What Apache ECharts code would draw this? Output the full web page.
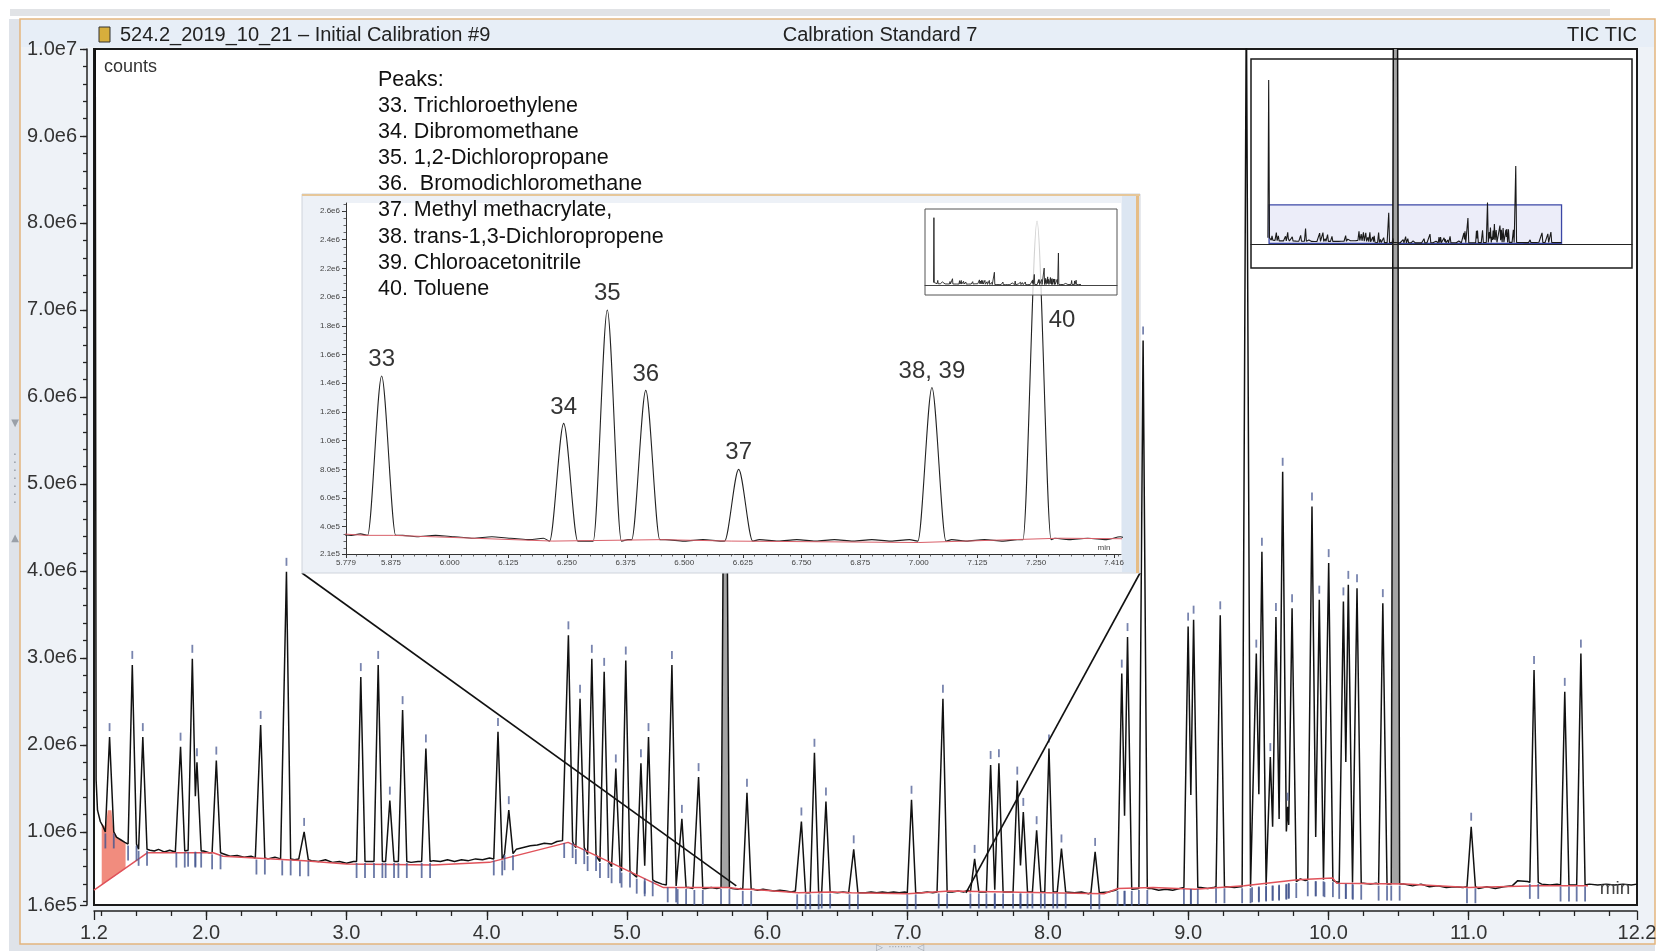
<!DOCTYPE html>
<html>
<head>
<meta charset="utf-8">
<title>524.2 Initial Calibration - Calbration Standard 7</title>
<script src="https://cdn.jsdelivr.net/npm/echarts@6/dist/echarts.min.js"></script>
<style>
html, body { margin: 0; padding: 0; background: #fff; }
#chart { width: 1663px; height: 951px; }
</style>
</head>
<body>
<div id="chart"></div>
<script>
// peak apexes: retention time (min), apex counts, level at the peak foot
var peakRT = [1.185, 1.311, 1.473, 1.548, 1.817, 1.901, 1.934, 2.072, 2.388, 2.572, 2.698,
  3.102, 3.226, 3.309, 3.400, 3.566, 4.080, 4.157, 4.582, 4.665, 4.749, 4.837, 4.920, 4.991,
  5.099, 5.153, 5.320, 5.391, 5.510, 5.700, 5.855, 6.243, 6.336, 6.418, 6.616, 7.028, 7.252,
  7.478, 7.592, 7.651, 7.782, 7.825, 7.920, 8.008, 8.097, 8.337, 8.527, 8.568, 8.679,
  9.000, 9.039, 9.229, 9.415, 9.486, 9.526, 9.586, 9.626, 9.674, 9.710, 9.741,
  9.883, 9.935, 10.002, 10.107, 10.142, 10.204, 10.388, 10.478, 11.018, 11.466, 11.685, 11.800];
var peakH = [4.2e7, 2.09e6, 2.92e6, 2.09e6, 1.98e6, 2.99e6, 1.80e6, 1.82e6, 2.23e6, 3.99e6, 1.00e6,
  2.78e6, 2.92e6, 1.36e6, 2.40e6, 1.96e6, 2.15e6, 1.25e6, 3.26e6, 2.53e6, 2.99e6, 2.84e6, 1.73e6, 2.97e6,
  1.79e6, 2.09e6, 2.92e6, 1.15e6, 1.63e6, 8.0e6, 1.45e6, 1.12e6, 1.91e6, 1.35e6, 0.80e6, 1.37e6, 2.53e6,
  0.69e6, 1.77e6, 1.79e6, 1.59e6, 1.23e6, 1.02e6, 1.96e6, 0.81e6, 0.77e6, 2.82e6, 3.24e6, 6.65e6,
  3.36e6, 3.44e6, 3.49e6, 1.06e7, 3.05e6, 4.22e6, 1.86e6, 3.47e6, 5.14e6, 1.29e6, 3.57e6,
  4.74e6, 3.67e6, 4.09e6, 3.65e6, 3.84e6, 3.80e6, 3.63e6, 2.0e7, 1.06e6, 2.86e6, 2.61e6, 3.05e6];
var peakBase = [1.6e6, 1.0e6, 0.86e6, 0.80e6, 0.78e6, 0.79e6, 0.78e6, 0.76e6, 0.70e6, 0.69e6, 0.68e6,
  0.66e6, 0.66e6, 0.66e6, 0.66e6, 0.66e6, 0.69e6, 0.75e6, 0.89e6, 0.82e6, 0.74e6, 0.66e6, 0.60e6, 0.55e6,
  0.48e6, 0.45e6, 0.38e6, 0.36e6, 0.35e6, 0.36e6, 0.34e6, 0.30e6, 0.30e6, 0.31e6, 0.30e6, 0.30e6, 0.31e6,
  0.31e6, 0.31e6, 0.31e6, 0.31e6, 0.31e6, 0.31e6, 0.31e6, 0.31e6, 0.30e6, 0.34e6, 0.34e6, 0.35e6,
  0.36e6, 0.36e6, 0.37e6, 0.37e6, 0.38e6, 0.39e6, 0.40e6, 0.40e6, 0.41e6, 0.42e6, 0.43e6,
  0.45e6, 0.45e6, 0.44e6, 0.42e6, 0.42e6, 0.41e6, 0.40e6, 0.40e6, 0.37e6, 0.42e6, 0.39e6, 0.39e6];
// the two wide peaks that show a grey body
var greyPeaks = [5.700, 10.478];

// trace level between the peaks
var baseline = [
  [1.225, 1.25e6], [1.245, 1.12e6], [1.265, 1.06e6],
  [1.36, 0.94e6], [1.39, 0.91e6], [1.42, 0.88e6],
  [1.60, 0.79e6], [1.63, 0.78e6], [1.66, 0.80e6], [1.70, 0.77e6], [1.74, 0.79e6], [1.78, 0.77e6],
  [1.98, 0.78e6], [2.02, 0.76e6],
  [2.12, 0.75e6], [2.17, 0.72e6], [2.22, 0.73e6], [2.27, 0.71e6], [2.32, 0.72e6], [2.35, 0.70e6],
  [2.44, 0.69e6], [2.49, 0.71e6], [2.53, 0.69e6], [2.63, 0.68e6], [2.66, 0.69e6],
  [2.75, 0.67e6], [2.80, 0.66e6], [2.85, 0.68e6], [2.90, 0.65e6], [2.95, 0.66e6], [3.00, 0.64e6], [3.05, 0.66e6],
  [3.16, 0.66e6], [3.27, 0.66e6], [3.35, 0.66e6], [3.46, 0.65e6], [3.51, 0.66e6],
  [3.62, 0.67e6], [3.67, 0.66e6], [3.72, 0.68e6], [3.77, 0.66e6], [3.82, 0.68e6], [3.87, 0.67e6],
  [3.92, 0.69e6], [3.97, 0.68e6], [4.02, 0.70e6], [4.12, 0.72e6],
  [4.21, 0.80e6], [4.26, 0.82e6], [4.31, 0.84e6], [4.36, 0.85e6], [4.41, 0.87e6], [4.46, 0.86e6],
  [4.50, 0.89e6], [4.54, 0.90e6],
  [4.62, 0.86e6], [4.71, 0.78e6], [4.79, 0.70e6], [4.88, 0.63e6], [4.955, 0.58e6], [5.04, 0.52e6],
  [5.20, 0.43e6], [5.25, 0.40e6], [5.28, 0.39e6],
  [5.36, 0.37e6], [5.44, 0.36e6], [5.47, 0.35e6], [5.56, 0.35e6], [5.60, 0.36e6], [5.64, 0.35e6],
  [5.75, 0.35e6], [5.79, 0.34e6], [5.81, 0.35e6],
  [5.90, 0.34e6], [5.93, 0.33e6], [5.97, 0.34e6], [6.01, 0.33e6], [6.05, 0.32e6], [6.09, 0.33e6],
  [6.13, 0.32e6], [6.17, 0.31e6], [6.20, 0.32e6],
  [6.29, 0.30e6], [6.38, 0.31e6], [6.46, 0.31e6], [6.50, 0.30e6], [6.54, 0.31e6], [6.58, 0.30e6],
  [6.66, 0.31e6], [6.70, 0.30e6], [6.74, 0.31e6], [6.78, 0.30e6], [6.82, 0.31e6], [6.86, 0.30e6],
  [6.90, 0.31e6], [6.94, 0.30e6], [6.98, 0.31e6],
  [7.07, 0.31e6], [7.10, 0.30e6], [7.14, 0.31e6], [7.18, 0.30e6], [7.21, 0.31e6],
  [7.29, 0.32e6], [7.32, 0.31e6], [7.36, 0.32e6], [7.40, 0.31e6], [7.43, 0.33e6],
  [7.53, 0.31e6], [7.72, 0.31e6], [7.87, 0.31e6], [7.96, 0.31e6], [8.05, 0.31e6],
  [8.14, 0.31e6], [8.19, 0.30e6], [8.24, 0.31e6], [8.29, 0.29e6],
  [8.38, 0.30e6], [8.43, 0.31e6], [8.48, 0.33e6],
  [8.74, 0.35e6], [8.79, 0.33e6], [8.84, 0.34e6], [8.89, 0.33e6], [8.94, 0.35e6],
  [9.09, 0.36e6], [9.14, 0.35e6], [9.18, 0.36e6], [9.28, 0.37e6], [9.33, 0.36e6], [9.37, 0.37e6],
  [9.80, 0.46e6], [9.835, 0.44e6], [10.05, 0.43e6], [10.25, 0.41e6], [10.30, 0.40e6], [10.34, 0.41e6],
  [10.54, 0.40e6], [10.60, 0.38e6], [10.66, 0.40e6], [10.72, 0.37e6], [10.78, 0.38e6], [10.84, 0.36e6],
  [10.90, 0.37e6], [10.96, 0.36e6],
  [11.07, 0.35e6], [11.13, 0.37e6], [11.19, 0.35e6], [11.25, 0.37e6], [11.31, 0.38e6], [11.35, 0.44e6],
  [11.42, 0.43e6], [11.52, 0.40e6], [11.58, 0.39e6], [11.63, 0.40e6], [11.74, 0.39e6],
  [11.86, 0.40e6], [11.92, 0.39e6], [11.98, 0.40e6], [12.04, 0.39e6], [12.10, 0.40e6], [12.16, 0.39e6], [12.2, 0.40e6]
];

// integration baseline (red)
var redBase = [[1.2, 0.33e6], [1.58, 0.76e6], [2.05, 0.76e6], [2.12, 0.72e6], [2.70, 0.67e6], [3.0, 0.63e6],
  [3.62, 0.62e6], [4.02, 0.65e6], [4.58, 0.88e6], [5.26, 0.36e6], [5.72, 0.36e6], [5.82, 0.34e6],
  [5.88, 0.34e6], [6.22, 0.30e6], [6.45, 0.31e6], [6.60, 0.30e6], [7.0, 0.29e6], [7.30, 0.32e6],
  [8.40, 0.29e6], [8.50, 0.35e6], [8.75, 0.36e6], [9.05, 0.34e6], [9.40, 0.38e6], [9.78, 0.45e6],
  [10.03, 0.47e6], [10.06, 0.41e6], [10.55, 0.40e6], [11.0, 0.36e6], [11.5, 0.38e6], [11.85, 0.38e6]];

// red filled area under the early peak
var solventFill = [[1.255, 1.10e6], [1.283, 1.05e6], [1.298, 1.25e6], [1.324, 1.25e6], [1.338, 1.02e6],
  [1.37, 0.93e6], [1.40, 0.90e6], [1.425, 0.87e6], [1.425, 0.58e6], [1.255, 0.39e6]];

var xLabels = [1.2, 2, 3, 4, 5, 6, 7, 8, 9, 10, 11, 12.2];
var yLabels = [1.6e5, 1e6, 2e6, 3e6, 4e6, 5e6, 6e6, 7e6, 8e6, 9e6, 1e7];
var insetXLabels = [5.779, 5.875, 6.0, 6.125, 6.25, 6.375, 6.5, 6.625, 6.75, 6.875, 7.0, 7.125, 7.25, 7.416];
var insetYLabels = [2.1e5, 4e5, 6e5, 8e5, 1e6, 1.2e6, 1.4e6, 1.6e6, 1.8e6, 2.0e6, 2.2e6, 2.4e6, 2.6e6];

var labelRT = [5.855, 6.243, 6.336, 6.418, 6.616, 7.028, 7.252];
var labelText = ['33', '34', '35', '36', '37', '38, 39', '40'];
var peakNames = ['Peaks:', '33. Trichloroethylene', '34. Dibromomethane', '35. 1,2-Dichloropropane',
  '36.  Bromodichloromethane', '37. Methyl methacrylate,', '38. trans-1,3-Dichloropropene',
  '39. Chloroacetonitrile', '40. Toluene'];

var X_MIN = 1.2, X_MAX = 12.2, Y_MIN = 1.6e5, Y_MAX = 1e7;
var INSET_X = [5.779, 7.431], INSET_Y = [2.1e5, 2.656e6];
var OV_X = [0.52, 14.85], OV_Y = [-6.15e6, 4.74e7];
var HW = 0.03; // half width of a peak foot, minutes
var FRAME = { x: 302, y: 194, w: 838, h: 379 };
var font = "'Liberation Sans', Arial, Helvetica, sans-serif";

function fmtE(v) { return Number(v).toExponential(1).replace('+', ''); }
function steps(a, b, s) { var r = []; for (var k = Math.round(a / s); k <= Math.round(b / s); k++) r.push(+(k * s).toFixed(4)); return r; }

// peaks as triangles on their foot level, overlapping neighbours meet where their edges cross
function buildTrace() {
  var n = peakRT.length, left = [], right = [], i;
  for (i = 0; i < n; i++) {
    left.push([peakRT[i] - HW, peakBase[i]]);
    right.push([peakRT[i] + HW, peakBase[i]]);
  }
  for (i = 0; i < n - 1; i++) {
    var ta = peakRT[i], ha = peakH[i], ba = peakBase[i];
    var tc = peakRT[i + 1], hc = peakH[i + 1], bc = peakBase[i + 1];
    if (tc - HW < ta + HW) {
      var sa = (ba - ha) / HW, sc = (hc - bc) / HW;
      var t = (bc - sc * (tc - HW) - ha + sa * ta) / (sa - sc);
      t = Math.min(Math.max(t, ta), tc);
      var v = Math.max(ha + sa * (t - ta), bc + sc * (t - tc + HW));
      right[i] = [t, v];
      left[i + 1] = [t, v];
    }
  }
  var pts = [];
  for (i = 0; i < n; i++) pts.push(left[i], [peakRT[i], peakH[i]], right[i]);
  baseline.forEach(function (p) {
    for (var k = 0; k < n; k++) if (p[0] > left[k][0] && p[0] < right[k][0]) return;
    pts.push(p);
  });
  pts.sort(function (a, b) { return a[0] - b[0]; });
  return { pts: pts, left: left, right: right };
}

var tr = buildTrace();
var apexMarks = [], footMarks = [], greyBodies = [];
peakRT.forEach(function (t, i) {
  var grey = greyPeaks.indexOf(t) >= 0;
  if (t > 1.25 && peakH[i] < Y_MAX && !grey) apexMarks.push([t, peakH[i]]);
  if (t > 1.25) {
    footMarks.push([tr.left[i][0], peakBase[i]]);
    footMarks.push([tr.right[i][0], peakBase[i]]);
  }
  if (grey) greyBodies.push([tr.left[i], [t, peakH[i]], tr.right[i]]);
});
var insetLabelData = labelRT.map(function (t, i) {
  var item = { value: [t, peakH[peakRT.indexOf(t)]], name: labelText[i] };
  if (labelText[i] === '40') item.label = { offset: [25, 116] };
  return item;
});

var tickStyle = { color: '#222', width: 1.3 };
function noSplit(o) {
  o.splitLine = { show: false };
  return o;
}

var chart = echarts.init(document.getElementById('chart'));

var option = {
  animation: false,
  textStyle: { fontFamily: font },
  grid: [
    { left: 94, top: 49, width: 1543, height: 856, show: true, backgroundColor: '#fff', borderColor: '#1a1a1a', borderWidth: 2, z: 1 },
    { left: 1251, top: 59, width: 381, height: 209, show: true, backgroundColor: 'transparent', borderColor: '#1a1a1a', borderWidth: 1.5, z: 6 },
    { left: 346, top: 203, width: 775, height: 351, show: true, backgroundColor: '#fff', borderWidth: 0, z: 11 },
    { left: 925, top: 209, width: 192, height: 86, show: true, backgroundColor: 'rgba(255,255,255,0.8)', borderColor: '#555', borderWidth: 1, z: 15 }
  ],
  xAxis: [
    noSplit({ type: 'value', gridIndex: 0, position: 'bottom', min: X_MIN, max: X_MAX, offset: 6, z: 3,
      axisLine: { show: true, onZero: false, lineStyle: { color: '#222', width: 1.5 } },
      axisTick: { show: true, length: 9, customValues: xLabels, lineStyle: tickStyle },
      axisLabel: { customValues: xLabels, formatter: function (v) { return v.toFixed(1); }, color: '#333', fontSize: 20, margin: 12 } }),
    noSplit({ type: 'value', gridIndex: 0, position: 'bottom', min: X_MIN, max: X_MAX, offset: 6, z: 3,
      axisLine: { show: false, onZero: false }, axisLabel: { show: false },
      axisTick: { show: true, length: 5, customValues: steps(1.25, 12.0, 0.25), lineStyle: tickStyle } }),
    noSplit({ type: 'value', gridIndex: 1, min: OV_X[0], max: OV_X[1], z: 6,
      axisLine: { show: true, onZero: true, lineStyle: { color: '#222', width: 1.2 } },
      axisTick: { show: false }, axisLabel: { show: false } }),
    noSplit({ type: 'value', gridIndex: 2, position: 'bottom', min: INSET_X[0], max: INSET_X[1], z: 12,
      axisLine: { show: true, onZero: false, lineStyle: { color: '#333', width: 1 } },
      axisTick: { show: true, length: 4, customValues: insetXLabels, lineStyle: { color: '#333', width: 1 } },
      axisLabel: { customValues: insetXLabels, formatter: function (v) { return v.toFixed(3); }, color: '#444', fontSize: 8, margin: 5 } }),
    noSplit({ type: 'value', gridIndex: 2, position: 'bottom', min: INSET_X[0], max: INSET_X[1], z: 12,
      axisLine: { show: false, onZero: false }, axisLabel: { show: false },
      axisTick: { show: true, length: 2.5, customValues: steps(5.8, 7.425, 0.025), lineStyle: { color: '#444', width: 0.8 } } }),
    noSplit({ type: 'value', gridIndex: 3, min: OV_X[0], max: OV_X[1], z: 16,
      axisLine: { show: true, onZero: true, lineStyle: { color: '#444', width: 1 } },
      axisTick: { show: false }, axisLabel: { show: false } })
  ],
  yAxis: [
    noSplit({ type: 'value', gridIndex: 0, position: 'left', min: Y_MIN, max: Y_MAX, offset: 7, z: 3,
      axisLine: { show: true, lineStyle: { color: '#222', width: 1.5 } },
      axisTick: { show: true, length: 7, customValues: yLabels, lineStyle: tickStyle },
      axisLabel: { customValues: yLabels, formatter: fmtE, color: '#333', fontSize: 20, margin: 10 } }),
    noSplit({ type: 'value', gridIndex: 0, position: 'left', min: Y_MIN, max: Y_MAX, offset: 7, z: 3,
      axisLine: { show: false }, axisLabel: { show: false },
      axisTick: { show: true, length: 4, customValues: steps(2e5, 1e7, 2e5), lineStyle: tickStyle } }),
    noSplit({ type: 'value', gridIndex: 1, min: OV_Y[0], max: OV_Y[1], show: false }),
    noSplit({ type: 'value', gridIndex: 2, position: 'left', min: INSET_Y[0], max: INSET_Y[1], z: 12,
      axisLine: { show: true, lineStyle: { color: '#333', width: 1 } },
      axisTick: { show: true, length: 4, customValues: insetYLabels, lineStyle: { color: '#333', width: 1 } },
      axisLabel: { customValues: insetYLabels, formatter: fmtE, color: '#444', fontSize: 8, margin: 6 } }),
    noSplit({ type: 'value', gridIndex: 2, position: 'left', min: INSET_Y[0], max: INSET_Y[1], z: 12,
      axisLine: { show: false }, axisLabel: { show: false },
      axisTick: { show: true, length: 2.5, customValues: steps(2.5e5, 2.65e6, 5e4), lineStyle: { color: '#444', width: 0.8 } } }),
    noSplit({ type: 'value', gridIndex: 3, min: OV_Y[0], max: OV_Y[1], show: false })
  ],
  series: [
    { name: 'TIC', type: 'line', xAxisIndex: 0, yAxisIndex: 0, data: tr.pts, symbol: 'none', z: 3,
      lineStyle: { color: '#111', width: 1.5 } },
    { name: 'integration', type: 'line', xAxisIndex: 0, yAxisIndex: 0, data: redBase, symbol: 'none', z: 4,
      lineStyle: { color: '#e0525a', width: 1.5 } },
    { type: 'custom', xAxisIndex: 0, yAxisIndex: 0, z: 2, silent: true, clip: true, data: [[1.3, 1e6]],
      renderItem: function (params, api) {
        return { type: 'polygon', shape: { points: solventFill.map(function (p) { return api.coord(p); }) },
          style: { fill: '#ef7f70', opacity: 0.9 } };
      } },
    { type: 'custom', xAxisIndex: 0, yAxisIndex: 0, z: 2, silent: true, clip: true,
      data: greyBodies.map(function (b) { return b[1]; }),
      renderItem: function (params, api) {
        var b = greyBodies[params.dataIndex];
        return { type: 'polygon', shape: { points: b.map(function (p) { return api.coord(p); }) },
          style: { fill: '#a4a4a4' } };
      } },
    { type: 'scatter', xAxisIndex: 0, yAxisIndex: 0, data: apexMarks, symbol: 'rect', symbolSize: [1.8, 8],
      symbolOffset: [0, -10], itemStyle: { color: '#56659a' }, z: 4, silent: true },
    { type: 'scatter', xAxisIndex: 0, yAxisIndex: 0, data: footMarks, symbol: 'rect', symbolSize: [1.8, 15],
      symbolOffset: [0, 9], itemStyle: { color: '#44558f' }, z: 4, silent: true },
    { name: 'overview', type: 'line', xAxisIndex: 2, yAxisIndex: 2, data: tr.pts, symbol: 'none', z: 6,
      lineStyle: { color: '#1a1a1a', width: 1.1 },
      markArea: { silent: true, itemStyle: { color: 'rgba(200,204,238,0.35)', borderColor: '#3b47a6', borderWidth: 1.3 },
        data: [[{ coord: [X_MIN, Y_MIN] }, { coord: [X_MAX, Y_MAX] }]] } },
    { name: 'inset', type: 'line', xAxisIndex: 3, yAxisIndex: 3, data: tr.pts, symbol: 'none', z: 12,
      smooth: 0.3, smoothMonotone: 'x', lineStyle: { color: '#222', width: 1.1 } },
    { type: 'line', xAxisIndex: 3, yAxisIndex: 3, data: redBase, symbol: 'none', z: 12,
      lineStyle: { color: '#d9606a', width: 1 } },
    { type: 'scatter', xAxisIndex: 3, yAxisIndex: 3, data: insetLabelData, symbolSize: 1, z: 14, silent: true,
      itemStyle: { color: 'transparent' },
      label: { show: true, position: 'top', distance: 4, formatter: '{b}', fontSize: 24, color: '#000' } },
    { name: 'mini', type: 'line', xAxisIndex: 5, yAxisIndex: 5, data: tr.pts, symbol: 'none', z: 16,
      lineStyle: { color: '#222', width: 0.9 },
      markArea: { silent: true, itemStyle: { color: 'rgba(200,204,238,0.3)', borderColor: '#4a58b0', borderWidth: 0.8 },
        data: [[{ coord: [insetXLabels[0], insetYLabels[0]] }, { coord: [insetXLabels[insetXLabels.length - 1], insetYLabels[insetYLabels.length - 1]] }]] } }
  ],
  graphic: { elements: [
    { id: 'topbar', type: 'rect', z: 0, shape: { x: 10, y: 9, width: 1600, height: 7 }, style: { fill: '#e1e3e6' } },
    { id: 'leftbar', type: 'rect', z: 0, shape: { x: 9, y: 19, width: 11, height: 925 }, style: { fill: '#dfe3e9' } },
    { id: 'botbar', type: 'rect', z: 0, shape: { x: 9, y: 944, width: 1646, height: 7 }, style: { fill: '#dfe3e9' } },
    { id: 'frame', type: 'rect', z: 0, shape: { x: 20, y: 19, width: 1635, height: 925 },
      style: { fill: '#eef2f7', stroke: '#e3b57e', lineWidth: 1.5 } },
    { id: 'titlebar', type: 'rect', z: 0, shape: { x: 21, y: 20, width: 1633, height: 27 }, style: { fill: '#e7eef7' } },
    { id: 'arrowDn', type: 'text', z: 1, x: 15, y: 423, style: { text: '\u25BC', font: '10px DejaVu Sans', fill: '#9aa0a8', align: 'center', verticalAlign: 'middle' } },
    { id: 'arrowUp', type: 'text', z: 1, x: 15, y: 538, style: { text: '\u25B2', font: '10px DejaVu Sans', fill: '#9aa0a8', align: 'center', verticalAlign: 'middle' } },
    { id: 'dots', type: 'text', z: 1, x: 15, y: 480, style: { text: '\u00B7\n\u00B7\n\u00B7\n\u00B7\n\u00B7\n\u00B7\n\u00B7', font: '12px DejaVu Sans', lineHeight: 8, fill: '#8a9099', align: 'center', verticalAlign: 'middle' } },
    { id: 'botdots', type: 'text', z: 1, x: 900, y: 948, style: { text: '\u25B7  \u00B7\u00B7\u00B7\u00B7\u00B7\u00B7\u00B7\u00B7  \u25C1', font: '9px DejaVu Sans', fill: '#9aa0a8', align: 'center', verticalAlign: 'middle' } },
    { id: 'icon', type: 'rect', z: 1, shape: { x: 99, y: 27, width: 11, height: 15 }, style: { fill: '#d7ae3c', stroke: '#333', lineWidth: 1 } },
    { id: 't1', type: 'text', z: 30, x: 120, y: 35, style: { text: '524.2_2019_10_21 \u2013 Initial Calibration #9', font: '20px ' + font, fill: '#222', verticalAlign: 'middle' } },
    { id: 't2', type: 'text', z: 30, x: 880, y: 35, style: { text: 'Calbration Standard 7', font: '20px ' + font, fill: '#222', align: 'center', verticalAlign: 'middle' } },
    { id: 't3', type: 'text', z: 30, x: 1637, y: 35, style: { text: 'TIC TIC', font: '20px ' + font, fill: '#222', align: 'right', verticalAlign: 'middle' } },
    { id: 'counts', type: 'text', z: 30, x: 104, y: 67, style: { text: 'counts', font: '18px ' + font, fill: '#333', verticalAlign: 'middle' } },
    { id: 'minMain', type: 'text', z: 30, x: 1615, y: 889, style: { text: 'min', font: '19px ' + font, fill: '#444', align: 'center', verticalAlign: 'middle' } },
    { id: 'insetFrame', type: 'rect', z: 10, shape: { x: FRAME.x, y: FRAME.y, width: FRAME.w, height: FRAME.h },
      style: { fill: '#edf1f7', stroke: '#cfd4dc', lineWidth: 1 } },
    { id: 'insetStrip', type: 'rect', z: 10, shape: { x: 1122, y: FRAME.y + 1, width: 14, height: FRAME.h - 2 }, style: { fill: '#dce6f2' } },
    { id: 'insetEdge', type: 'rect', z: 10, shape: { x: 1136, y: FRAME.y, width: 3, height: FRAME.h }, style: { fill: '#e6bd86' } },
    { id: 'insetTop', type: 'rect', z: 10, shape: { x: FRAME.x, y: FRAME.y, width: FRAME.w, height: 2 }, style: { fill: '#e6c79a' } },
    { id: 'minInset', type: 'text', z: 14, x: 1104, y: 548, style: { text: 'min', font: '8px ' + font, fill: '#444', align: 'center', verticalAlign: 'middle' } },
    { id: 'peaks', type: 'text', z: 30, x: 378, y: 67, style: { text: peakNames.join('\n'), font: '21.5px ' + font, lineHeight: 26.1, fill: '#111', verticalAlign: 'top' } }
  ] }
};

chart.setOption(option);

// lines joining the inset to the stretch of the run it enlarges
var pL = chart.convertToPixel({ seriesIndex: 0 }, [insetXLabels[0], 3.8e5]);
var pR = chart.convertToPixel({ seriesIndex: 0 }, [insetXLabels[insetXLabels.length - 1], 3.0e5]);
chart.setOption({ graphic: { elements: [
  { id: 'connL', type: 'line', z: 7, shape: { x1: FRAME.x, y1: FRAME.y + FRAME.h, x2: pL[0], y2: pL[1] }, style: { stroke: '#111', lineWidth: 1.6 } },
  { id: 'connR', type: 'line', z: 7, shape: { x1: FRAME.x + FRAME.w, y1: FRAME.y + FRAME.h, x2: pR[0], y2: pR[1] }, style: { stroke: '#111', lineWidth: 1.6 } }
] } });
</script>
</body>
</html>
